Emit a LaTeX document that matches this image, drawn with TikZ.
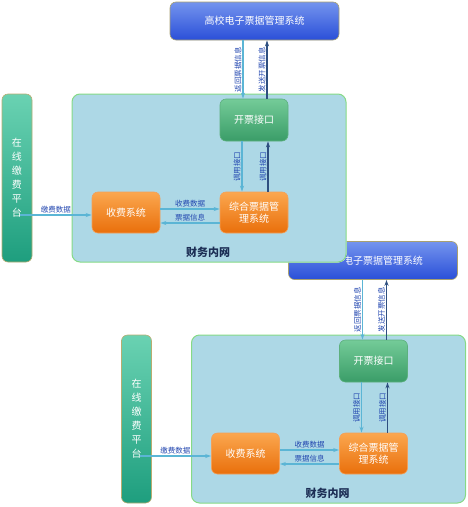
\documentclass[tikz,border=0pt]{standalone}
\usepackage{fontspec}
\setmainfont{Noto Sans CJK SC}
\usetikzlibrary{arrows.meta}

\definecolor{topblueT}{HTML}{7494EE}
\definecolor{topblueB}{HTML}{2A4FD8}
\definecolor{topedge}{HTML}{A8A070}
\definecolor{greenT}{HTML}{74CB98}
\definecolor{greenB}{HTML}{3A9D68}
\definecolor{greenedge}{HTML}{5DB07E}
\definecolor{orangeT}{HTML}{FBA74F}
\definecolor{orangeB}{HTML}{E96F0B}
\definecolor{orangeedge}{HTML}{F2A05A}
\definecolor{payT}{HTML}{6AD2B2}
\definecolor{payB}{HTML}{1E9E7E}
\definecolor{payedge}{HTML}{B8AC70}
\definecolor{netfill}{HTML}{ADD8E6}
\definecolor{netedge}{HTML}{86DA86}
\definecolor{flowcyan}{HTML}{5BB5D5}
\definecolor{backdark}{HTML}{2E4F80}
\definecolor{lblblue}{HTML}{2448B0}
\definecolor{netlbl}{HTML}{1C2E55}

\begin{document}
\begin{tikzpicture}[
        x=1pt, y=-1pt,
        box/.style={
            draw,
            rounded corners=6pt,
            line width=0.6pt,
            minimum width=68pt,
            minimum height=42pt,
            align=center,
            inner sep=2pt,
            text=white,
            font=\fontsize{10}{12}\selectfont
        },
        sysbox/.style={box, top color=topblueT, bottom color=topblueB, draw=topedge,
            minimum width=169pt, minimum height=38pt},
        apibox/.style={box, top color=greenT, bottom color=greenB, draw=greenedge},
        workbox/.style={box, top color=orangeT, bottom color=orangeB, draw=orangeedge,
            minimum height=41pt},
        paybox/.style={box, top color=payT, bottom color=payB, draw=payedge,
            minimum width=30pt, minimum height=168pt, font=\fontsize{10}{14}\selectfont},
        netbox/.style={
            draw=netedge,
            fill=netfill,
            rounded corners=8pt,
            line width=1pt,
            minimum width=274pt,
            minimum height=168pt
        },
        flow/.style={
            -{Stealth[length=6pt, width=4pt]},
            line width=1.1pt,
            flowcyan
        },
        back/.style={flow, backdark},
        lbl/.style={font=\fontsize{7.5}{8}\selectfont, text=lblblue, inner sep=1pt},
        vlbl/.style={lbl, midway, rotate=90, anchor=south}
    ]
        \useasboundingbox (0,0) rectangle (467,507);

        % --- Systemes centraux (the lower one is partly hidden by the upper net) ---
        \begin{scope}
            \clip (280,300) -- (280,262.5) -- (338.5,262.5)
                .. controls (342.9,262.5) and (346.5,258.9) .. (346.5,254.5)
                -- (346.5,230) -- (470,230) -- (470,300) -- cycle;
            \node[sysbox] (b-top) at (373,260.5) {};
        \end{scope}
        \begin{scope}
            \clip (346.5,230) rectangle (470,300);
            \node[text=white, font=\fontsize{10}{12}\selectfont] (b-topname) at (b-top) {高校电子票据管理系统};
        \end{scope}
        \node[sysbox] (a-top) at (254.5,21) {高校电子票据管理系统};

        % --- two copies: the lower one first ---
        \foreach \p/\dx/\dy in {b/119.5/241, a/0/0} {
        \begin{scope}[shift={(\dx,\dy)}]
            % --- Reseau financier ---
            \node[netbox] (\p-net) at (209,178) {};
            \node[font=\fontsize{11}{12}\selectfont\bfseries, text=netlbl] (\p-netname) at (208,252) {财务内网};

            % --- Blocs internes ---
            \node[apibox] (\p-invoice) at (254,120) {开票接口};
            \node[workbox] (\p-ticket) at (254,212.5) {综合票据管\\理系统};
            \node[workbox] (\p-charge) at (126,212.5) {收费系统};

            % --- Plateforme en ligne ---
            \node[paybox] (\p-pay) at (17,178) {在\\线\\缴\\费\\平\\台};
            \coordinate (\p-payout) at (20,215);

            % --- Liaisons ---
            \draw[flow] ([xshift=-11pt]\p-invoice.north |- \p-top.south) -- ([xshift=-11pt]\p-invoice.north)
                node[vlbl] {返回票据信息};
            \draw[back] ([xshift=13pt]\p-invoice.north) -- ([xshift=13pt]\p-invoice.north |- \p-top.south)
                node[vlbl] {发送开票信息};

            \draw[flow] ([xshift=-12pt]\p-invoice.south) -- ([xshift=-12pt]\p-ticket.north)
                node[vlbl] {调用接口};
            \draw[back] ([xshift=14pt]\p-ticket.north) -- ([xshift=14pt]\p-invoice.south)
                node[vlbl] {调用接口};

            \draw[flow] ([yshift=3.5pt]\p-charge.east) -- ([yshift=3.5pt]\p-ticket.west)
                node[lbl, midway, above] {收费数据};
            \draw[flow] ([yshift=-10.5pt]\p-ticket.west) -- ([yshift=-10.5pt]\p-charge.east)
                node[lbl, midway, above] {票据信息};

            \draw[flow] (\p-payout) -- (\p-payout -| \p-charge.west)
                node[lbl, midway, above] {缴费数据};
        \end{scope}
        }
    \end{tikzpicture}
\end{document}
